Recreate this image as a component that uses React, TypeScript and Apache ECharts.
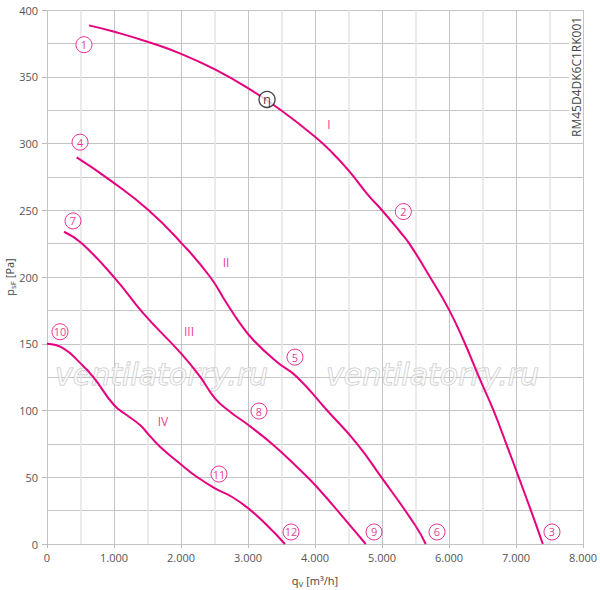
import { useEffect, useRef } from 'react';
import * as echarts from 'echarts';

const MAGENTA = '#e6007e';

// kennlinien, [q_V m³/h, p_sF Pa]
const curveI = [
  [627, 388.5], [1005, 383.7], [1500, 376.2], [2010, 367], [2507, 355.5], [3005, 341.3],
  [3503, 324.5], [4000, 305], [4250, 293.5], [4497, 280.1], [4800, 261], [5000, 250],
  [5269, 233.9], [5408, 225], [5716, 200], [6005, 175], [6239, 150], [6448, 125],
  [6661, 100.4], [6852, 75.4], [7037, 50.4], [7220, 25.5], [7400, 0],
];
const curveII = [
  [443, 289.6], [940, 272.6], [1512, 250.2], [2010, 225.2], [2433, 200.2],
  [2682, 180.3], [2881, 165.3], [3079, 152.8], [3428, 136.5], [3727, 125.3], [4175, 100.4],
  [4622, 75.4], [4995, 49.7], [5493, 14.2], [5652, 0],
];
const curveIII = [
  [254, 233.9], [518, 225.2], [1015, 199], [1438, 172.8], [2010, 142.2],
  [2284, 125.3], [2507, 109.1], [2731, 99.1], [3005, 89.1], [3378, 74.2], [3751, 56.7],
  [4025, 42.9], [4497, 15.5], [4757, 0],
];
const curveIV = [
  [0, 150], [244, 146.6], [500, 135.3], [692, 125], [1000, 104.1], [1189, 96.6],
  [1388, 89.1], [1500, 82.9], [1687, 72.9], [2010, 59.2], [2234, 50.4], [2507, 41.7],
  [2757, 35.4], [3005, 26.7], [3279, 14.2], [3552, 0],
];

// betriebspunkte (eingekreiste nummern)
const pointMarks = [
  [552, 374, '1'], [5318, 249, '2'], [7537, 9, '3'], [493, 301, '4'], [3701, 140, '5'],
  [5821, 9, '6'], [388, 242, '7'], [3164, 99.6, '8'], [4881, 9, '9'], [194, 159, '10'],
  [2567, 52.4, '11'], [3642, 9, '12'],
];
const etaMark = [[3284, 333, 'η']];
const stageMarks = [
  [4209, 314, 'I'], [2672, 210.5, 'II'], [2119, 159.5, 'III'], [1731, 91.4, 'IV'],
];

const FONT = '"Open Sans", "Noto Sans", sans-serif';

const App: React.FC = () => {
  const chartRef = useRef<HTMLDivElement | null>(null);

  useEffect(() => {
    if (!chartRef.current) return;
    const chart = echarts.init(chartRef.current, null, { renderer: 'svg' });

    const curve = (data: number[][]) => ({
      type: 'line',
      data,
      smooth: 0.5,
      showSymbol: false,
      lineStyle: { color: MAGENTA, width: 2 },
      z: 3,
    });

    const watermark = (x: number) => ({
      type: 'text',
      x,
      y: 374,
      z: 1,
      style: {
        text: 'ventilatorry.ru',
        font: 'italic 30px "DejaVu Sans", sans-serif',
        fill: 'rgba(255,255,255,0.6)',
        stroke: '#c4c4c4',
        lineWidth: 1,
        verticalAlign: 'middle',
      },
    });

    chart.setOption({
      animation: false,
      textStyle: { fontFamily: FONT },
      grid: { left: 47, right: 17, top: 10, bottom: 46, outerBoundsMode: 'none', containLabel: false },
      xAxis: {
        type: 'value',
        min: 0,
        max: 8000,
        interval: 1000,
        axisLine: { show: false },
        axisTick: { show: true, length: 4, lineStyle: { color: '#bbb' } },
        axisLabel: {
          color: '#555',
          fontSize: 11,
          margin: 8,
          formatter: (v: number) => (v === 0 ? '0' : `${v / 1000}.000`),
        },
        splitLine: { lineStyle: { color: '#c4c4c4', width: 1 } },
        minorTick: { show: false, splitNumber: 2 },
        minorSplitLine: { show: true, lineStyle: { color: '#e4e4e4', width: 1.5 } },
        name: '{a|q}{s|V}{a| [m³/h]}',
        nameLocation: 'middle',
        nameGap: 30,
        nameMoveOverlap: false,
        nameTextStyle: {
          rich: {
            a: { fontSize: 11, color: '#444', fontFamily: FONT },
            s: { fontSize: 8, color: '#444', fontFamily: FONT, verticalAlign: 'bottom', padding: [5, 0, 0, 0] },
          },
        },
      },
      yAxis: {
        type: 'value',
        min: 0,
        max: 400,
        interval: 50,
        axisLine: { show: false },
        axisTick: { show: true, length: 5, lineStyle: { color: '#bbb' } },
        axisLabel: { color: '#555', fontSize: 11, margin: 9 },
        splitLine: { lineStyle: { color: '#c4c4c4', width: 1 } },
        minorTick: { show: false, splitNumber: 2 },
        minorSplitLine: { show: true, lineStyle: { color: '#c4c4c4', width: 1 } },
        name: '{a|p}{s|sF}{a| [Pa]}',
        nameLocation: 'middle',
        nameGap: 31,
        nameMoveOverlap: false,
        nameTextStyle: {
          rich: {
            a: { fontSize: 11, color: '#444', fontFamily: FONT },
            s: { fontSize: 8, color: '#444', fontFamily: FONT, verticalAlign: 'bottom', padding: [5, 0, 0, 0] },
          },
        },
      },
      graphic: [
        watermark(55),
        watermark(326),
        {
          type: 'text',
          x: 576,
          y: 138,
          rotation: Math.PI / 2,
          z: 100,
          style: {
            text: 'RM45D4DK6C1RK001',
            font: `12px ${FONT}`,
            fill: '#444',
            align: 'left',
            verticalAlign: 'middle',
            backgroundColor: '#fff',
            padding: [1, 1, 1, 1],
          },
        },
      ],
      series: [
        curve(curveI),
        curve(curveII),
        curve(curveIII),
        curve(curveIV),
        {
          type: 'scatter',
          data: pointMarks,
          symbol: 'circle',
          symbolSize: 16,
          itemStyle: { color: '#fff', borderColor: MAGENTA, borderWidth: 1 },
          label: {
            show: true,
            position: 'inside',
            formatter: (p: any) => p.value[2],
            color: MAGENTA,
            fontSize: 11,
          },
          z: 5,
        },
        {
          type: 'scatter',
          data: etaMark,
          symbol: 'circle',
          symbolSize: 16,
          itemStyle: { color: '#fff', borderColor: '#111', borderWidth: 1.3 },
          label: {
            show: true,
            position: 'inside',
            formatter: (p: any) => p.value[2],
            color: '#111',
            fontSize: 13,
          },
          z: 5,
        },
        {
          type: 'scatter',
          data: stageMarks,
          symbolSize: 0,
          label: {
            show: true,
            position: 'inside',
            formatter: (p: any) => p.value[2],
            color: MAGENTA,
            fontSize: 12,
          },
          z: 5,
        },
      ],
    });

    return () => {
      chart.dispose();
    };
  }, []);

  return (
    <div
      ref={chartRef}
      style={{ position: 'fixed', left: 0, top: 0, width: 600, height: 590, background: '#fff' }}
    />
  );
};

export default App;
